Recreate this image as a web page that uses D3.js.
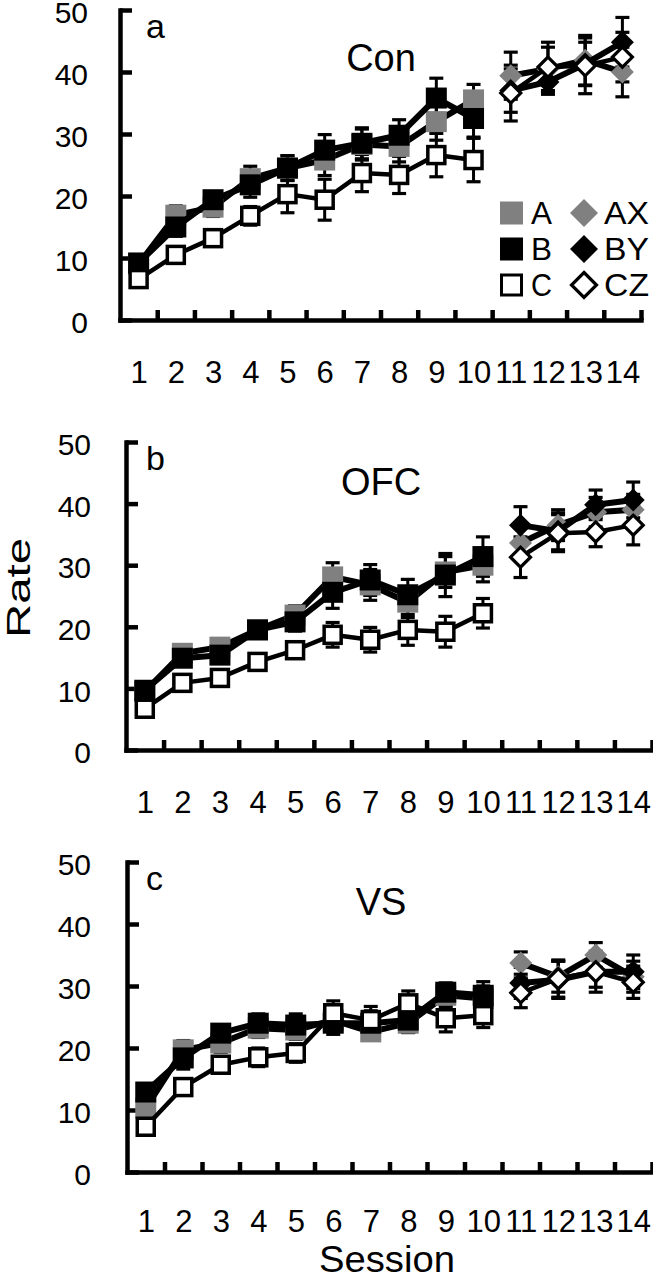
<!DOCTYPE html>
<html>
<head>
<meta charset="utf-8">
<script src="https://d3js.org/d3.v7.min.js"></script>
<style>
    body { margin: 0; background: #fff; }
    svg { display: block; }
    text { font-family: "Liberation Sans", Arial, sans-serif; fill: #000; }
    .axis path, .axis line { stroke: #000; stroke-width: 4.5px; }
</style>
</head>
<body>
<svg id="chart" width="653" height="1280"></svg>
<script>
    // sessions and y ticks
    const sessions = [1, 2, 3, 4, 5, 6, 7, 8, 9, 10, 11, 12, 13, 14]
    const yTicks = [0, 10, 20, 30, 40, 50]

    // a: Con  (A/B/C for 1-10, AX/BY/CZ for 11-14)
    const conA   = [9.0, 16.9, 18.2, 22.8, 24.5, 25.8, 28.3, 28.0, 32.0, 35.5, 39.4, 40.5, 41.9, 40.0]
    const conB   = [9.2, 15.0, 19.4, 21.8, 24.5, 27.4, 28.5, 29.8, 35.8, 32.5, 37.0, 38.4, 41.3, 44.8]
    const conC   = [6.6, 10.5, 13.2, 16.8, 20.3, 19.4, 23.7, 23.4, 26.6, 25.8, 36.6, 40.8, 41.0, 42.4]
    const conAerr = [1.0, 1.5, 1.5, 2.0, 2.0, 2.5, 2.5, 2.5, 3.0, 2.5, 3.8, 3.5, 4.0, 4.0]
    const conBerr = [1.0, 1.5, 1.2, 2.0, 2.0, 2.5, 2.5, 2.5, 3.2, 3.0, 3.5, 2.0, 3.5, 4.0]
    const conCerr = [0.8, 1.0, 1.0, 1.5, 3.0, 3.3, 3.0, 3.0, 3.5, 3.5, 4.5, 4.0, 4.5, 4.0]

    // b: OFC
    const ofcA   = [9.5, 15.7, 16.7, 19.5, 21.9, 28.1, 26.8, 24.0, 28.9, 30.0, 33.6, 36.5, 38.6, 39.0]
    const ofcB   = [9.7, 14.9, 15.4, 19.5, 20.8, 25.6, 27.6, 25.2, 28.4, 31.4, 36.5, 35.5, 39.8, 40.6]
    const ofcC   = [6.7, 10.9, 11.7, 14.3, 16.2, 18.7, 17.9, 19.5, 19.2, 22.2, 31.3, 35.2, 35.4, 36.5]
    const ofcAerr = [1.0, 1.2, 1.2, 1.0, 1.5, 2.3, 2.5, 2.5, 2.5, 2.7, 2.5, 2.5, 2.4, 2.5]
    const ofcBerr = [1.0, 1.2, 1.2, 1.0, 1.5, 2.6, 2.5, 2.5, 3.5, 3.2, 3.0, 3.0, 2.4, 2.9]
    const ofcCerr = [0.8, 1.0, 1.0, 1.0, 1.3, 2.0, 2.0, 2.5, 2.5, 2.4, 3.3, 3.0, 2.4, 3.2]

    // c: VS
    const vsA   = [10.3, 19.7, 20.8, 23.2, 22.9, 24.5, 22.6, 24.0, 28.5, 28.0, 33.7, 31.5, 35.0, 31.5]
    const vsB   = [12.9, 18.4, 22.4, 24.0, 23.7, 24.0, 24.0, 24.5, 29.0, 28.5, 30.5, 31.0, 32.3, 32.3]
    const vsC   = [7.3, 13.7, 17.3, 18.5, 19.2, 25.6, 24.5, 27.2, 24.8, 25.3, 28.9, 31.2, 32.3, 30.6]
    const vsAerr = [1.2, 1.5, 1.5, 1.5, 1.5, 1.5, 1.2, 1.5, 1.8, 2.0, 1.8, 2.5, 2.0, 2.5]
    const vsBerr = [1.2, 1.8, 1.2, 1.5, 1.8, 1.8, 2.0, 2.0, 1.5, 2.2, 2.5, 3.0, 2.5, 2.7]
    const vsCerr = [1.0, 1.2, 1.2, 1.5, 1.5, 2.0, 2.2, 2.0, 2.2, 2.0, 2.4, 3.0, 3.3, 2.6]

    const legendLeft  = ["A", "B", "C"]
    const legendRight = ["AX", "BY", "CZ"]

    const gray = "#808080"
    let svg = d3.select("#chart")

    // layout of the 3 panels
    let panels = [
        {letter: "a", title: "Con", x0: 120, x1: 641, yTop: 10,  yBot: 320,  pad: 32, lp: 41, A: conA, B: conB, C: conC, Ae: conAerr, Be: conBerr, Ce: conCerr},
        {letter: "b", title: "OFC", x0: 126, x1: 652, yTop: 442, yBot: 750,  pad: 35, lp: 41, A: ofcA, B: ofcB, C: ofcC, Ae: ofcAerr, Be: ofcBerr, Ce: ofcCerr},
        {letter: "c", title: "VS",  x0: 127, x1: 652, yTop: 862, yBot: 1172, pad: 36, lp: 38, A: vsA,  B: vsB,  C: vsC,  Ae: vsAerr,  Be: vsBerr,  Ce: vsCerr}
    ]

    function square(g, cx, cy, fill, open) {
        if (open) {
            g.append("rect").attr("x", cx - 8.5).attr("y", cy - 8.5).attr("width", 17).attr("height", 17)
                .attr("fill", "#fff").attr("stroke", "#000").attr("stroke-width", 3.5)
        } else {
            g.append("rect").attr("x", cx - 10.5).attr("y", cy - 10.5).attr("width", 21).attr("height", 21)
                .attr("fill", fill)
        }
    }

    function diamond(g, cx, cy, fill, open, r) {
        r = r || 11.5
        if (open) r = r - 1.5
        let pts = [[cx, cy - r], [cx + r, cy], [cx, cy + r], [cx - r, cy]]
        let p = g.append("polygon").attr("points", pts.map(d => d.join(",")).join(" "))
        if (open) p.attr("fill", "#fff").attr("stroke", "#000").attr("stroke-width", 3.2)
        else p.attr("fill", fill)
    }

    panels.forEach(p => {
        let g = svg.append("g")

        let x = d3.scaleLinear().domain([0.5, 14.5]).range([p.x0, p.x1])
        let y = d3.scaleLinear().domain([0, 50]).range([p.yBot, p.yTop])

        // y axis
        let ya = g.append("g").attr("class", "axis")
            .attr("transform", "translate(" + p.x0 + ",0)")
            .call(d3.axisLeft(y).tickValues(yTicks).tickSize(-12).tickSizeOuter(0).tickPadding(p.pad))
        ya.selectAll("text").attr("font-size", 30).attr("dy", "0.42em")
            .style("font-family", "'Liberation Sans', Arial, sans-serif")
        ya.select(".domain").attr("stroke-linecap", "square")

        // x axis: tick marks between sessions
        let xa = g.append("g").attr("class", "axis")
            .attr("transform", "translate(0," + p.yBot + ")")
            .call(d3.axisBottom(x).tickValues(sessions.map(s => s + 0.5)).tickSize(-10).tickSizeOuter(0).tickFormat(""))
        xa.select(".domain").attr("stroke-linecap", "square")

        // x labels
        let xl = g.append("g")
            .attr("transform", "translate(0," + p.yBot + ")")
            .call(d3.axisBottom(x).tickValues(sessions).tickSize(0).tickPadding(p.lp).tickFormat(d3.format("d")))
        xl.select(".domain").remove()
        xl.selectAll("text").attr("font-size", 31)
            .style("font-family", "'Liberation Sans', Arial, sans-serif")

        // panel letter and title
        g.append("text").attr("x", 146).attr("y", p.yTop + 28).attr("font-size", 34).text(p.letter)
        g.append("text").attr("x", 381).attr("y", p.yTop + (p.letter === "a" ? 61 : 53))
            .attr("text-anchor", "middle").attr("font-size", 38).text(p.title)

        let series = [
            {m: p.A, e: p.Ae, fill: gray, open: false, lw: 6},
            {m: p.B, e: p.Be, fill: "#000", open: false, lw: 6},
            {m: p.C, e: p.Ce, fill: "#fff", open: true, lw: 4.5}
        ]

        // error bars
        series.forEach(s => {
            sessions.forEach((ses, i) => {
                let cx = x(ses)
                let lo = y(s.m[i] - s.e[i]), hi = y(s.m[i] + s.e[i])
                g.append("line").attr("x1", cx).attr("x2", cx).attr("y1", lo).attr("y2", hi)
                    .attr("stroke", "#000").attr("stroke-width", 3)
                ;[lo, hi].forEach(yy => {
                    g.append("line").attr("x1", cx - 7).attr("x2", cx + 7).attr("y1", yy).attr("y2", yy)
                        .attr("stroke", "#000").attr("stroke-width", 3.2)
                })
            })
        })

        // lines + markers, sessions 1-10 and 11-14 as separate runs
        let line = d3.line().x(d => x(d[0])).y(d => y(d[1]))
        series.forEach(s => {
            let pts = sessions.map((ses, i) => [ses, s.m[i]])
            ;[pts.slice(0, 10), pts.slice(10)].forEach(run => {
                g.append("path").attr("d", line(run)).attr("fill", "none")
                    .attr("stroke", "#000").attr("stroke-width", s.lw).attr("stroke-linejoin", "round")
            })
            pts.forEach(d => {
                if (d[0] <= 10) square(g, x(d[0]), y(d[1]), s.fill, s.open)
                else diamond(g, x(d[0]), y(d[1]), s.fill, s.open)
            })
        })
    })

    // legend (panel a)
    let leg = svg.append("g")
    let legFill = [gray, "#000", "#fff"]
    legendLeft.forEach((t, i) => {
        let cy = 213 + i * 36
        if (i === 2) {
            leg.append("rect").attr("x", 501.5).attr("y", cy - 10).attr("width", 20).attr("height", 20)
                .attr("fill", "#fff").attr("stroke", "#000").attr("stroke-width", 3)
        } else {
            leg.append("rect").attr("x", 500).attr("y", cy - 11.5).attr("width", 23).attr("height", 23).attr("fill", legFill[i])
        }
        leg.append("text").attr("x", 531).attr("y", cy + 11).attr("font-size", 31)
            .attr("textLength", t.length * 21).attr("lengthAdjust", "spacingAndGlyphs").text(t)
        diamond(leg, 584, cy, legFill[i], i === 2, 14)
        leg.append("text").attr("x", 604).attr("y", cy + 11).attr("font-size", 31)
            .attr("textLength", 45).attr("lengthAdjust", "spacingAndGlyphs").text(legendRight[i])
    })

    // axis titles
    svg.append("text").attr("transform", "translate(30,588) rotate(-90)")
        .attr("text-anchor", "middle").attr("font-size", 33)
        .attr("textLength", 100).attr("lengthAdjust", "spacingAndGlyphs").text("Rate")
    svg.append("text").attr("x", 387).attr("y", 1272)
        .attr("text-anchor", "middle").attr("font-size", 36)
        .attr("textLength", 136).attr("lengthAdjust", "spacingAndGlyphs").text("Session")
</script>
</body>
</html>
